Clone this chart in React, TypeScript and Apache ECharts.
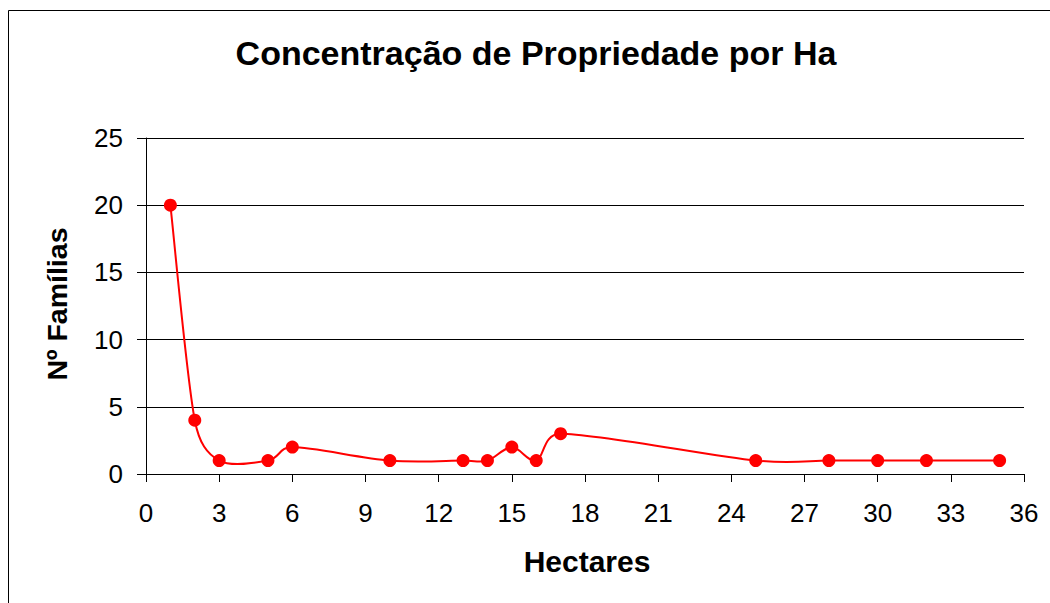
import React, { useEffect, useRef } from "react";
import * as echarts from "echarts";

const titleText = "Concentração de Propriedade por Ha";
const xName = "Hectares";
const yName = "Nº Famílias";
const hectares = [1, 2, 3, 5, 6, 10, 13, 14, 15, 16, 17, 25, 28, 30, 32, 35];
const familias = [20, 4, 1, 1, 2, 1, 1, 1, 2, 1, 3, 1, 1, 1, 1, 1];

const FONT = "'Liberation Sans', Arial, sans-serif";

export default function App() {
  const ref = useRef<HTMLDivElement>(null);
  useEffect(() => {
    if (!ref.current) return;
    const chart = echarts.init(ref.current, undefined, { renderer: "svg" });
    const data = hectares.map((h, i) => [h, familias[i]]);
    const n = data.length;
    chart.setOption({
      animation: false,
      backgroundColor: "#ffffff",
      grid: { left: 146, right: 26, top: 138, bottom: 129, containLabel: false },
      graphic: [
        {
          type: "rect",
          shape: { x: 8.5, y: 10.5, width: 1100, height: 700 },
          style: { fill: "none", stroke: "#000", lineWidth: 1 },
          silent: true,
        },
        {
          type: "text",
          x: 536,
          y: 53,
          style: {
            text: titleText,
            fontFamily: FONT,
            fontSize: 34,
            fontWeight: "bold",
            fill: "#000",
            textAlign: "center",
            textVerticalAlign: "middle",
          },
        },
        {
          type: "text",
          x: 587,
          y: 561,
          style: {
            text: xName,
            fontFamily: FONT,
            fontSize: 30,
            fontWeight: "bold",
            fill: "#000",
            textAlign: "center",
            textVerticalAlign: "middle",
          },
        },
        {
          type: "text",
          x: 57,
          y: 304,
          rotation: Math.PI / 2,
          style: {
            text: yName,
            fontFamily: FONT,
            fontSize: 28.5,
            fontWeight: "bold",
            fill: "#000",
            textAlign: "center",
            textVerticalAlign: "middle",
          },
        },
      ],
      xAxis: {
        type: "value",
        min: 0,
        max: 36,
        interval: 3,
        axisLine: { show: true, lineStyle: { color: "#000", width: 1 } },
        axisTick: { show: true, inside: false, length: 8, lineStyle: { color: "#000" } },
        axisLabel: { fontFamily: FONT, fontSize: 26, color: "#000", margin: 26 },
        splitLine: { show: false },
      },
      yAxis: {
        type: "value",
        min: 0,
        max: 25,
        interval: 5,
        axisLine: { show: true, lineStyle: { color: "#000", width: 1 } },
        axisTick: { show: true, inside: false, length: 9, lineStyle: { color: "#000" } },
        axisLabel: { fontFamily: FONT, fontSize: 26, color: "#000", margin: 23 },
        splitLine: { show: true, lineStyle: { color: "#000", width: 1 } },
      },
      series: [
        {
          type: "custom",
          z: 2,
          data,
          clip: false,
          renderItem: (params: any, api: any) => {
            const i = params.dataIndex;
            if (i >= n - 1) return null;
            const p = (k: number) => {
              const kk = Math.max(0, Math.min(n - 1, k));
              return api.coord(data[kk]);
            };
            const p0 = p(i - 1);
            const p1 = p(i);
            const p2 = p(i + 1);
            const p3 = p(i + 2);
            const seg = Math.hypot(p2[0] - p1[0], p2[1] - p1[1]);
            const limit = (vx: number, vy: number) => {
              const len = Math.hypot(vx, vy);
              const max = seg / 2;
              if (len > max && len > 0) {
                const f = max / len;
                return [vx * f, vy * f];
              }
              return [vx, vy];
            };
            const t1 = limit((p2[0] - p0[0]) / 6, (p2[1] - p0[1]) / 6);
            const t2 = limit((p3[0] - p1[0]) / 6, (p3[1] - p1[1]) / 6);
            return {
              type: "bezierCurve",
              shape: {
                x1: p1[0],
                y1: p1[1],
                x2: p2[0],
                y2: p2[1],
                cpx1: p1[0] + t1[0],
                cpy1: p1[1] + t1[1],
                cpx2: p2[0] - t2[0],
                cpy2: p2[1] - t2[1],
              },
              style: { stroke: "#ff0000", lineWidth: 2, fill: null },
            };
          },
        },
        {
          type: "line",
          z: 3,
          data,
          symbol: "circle",
          symbolSize: 13,
          itemStyle: { color: "#ff0000" },
          lineStyle: { width: 0, opacity: 0 },
        },
      ],
    });
    return () => chart.dispose();
  }, []);
  return (
    <div
      ref={ref}
      style={{ position: "fixed", left: 0, top: 0, width: 1050, height: 603 }}
    />
  );
}
